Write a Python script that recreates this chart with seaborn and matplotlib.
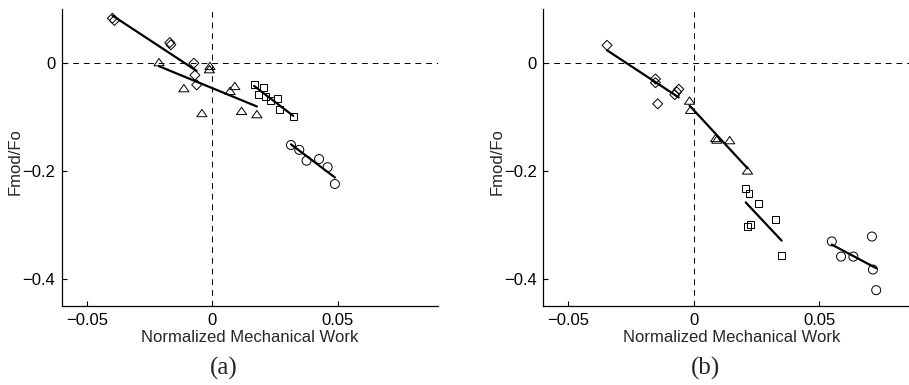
import matplotlib
matplotlib.use("Agg")
import matplotlib.pyplot as plt
from matplotlib.path import Path
import numpy as np
import seaborn as sns

sns.set_style("ticks")
plt.rcParams["font.family"] = ["Liberation Sans", "DejaVu Sans"]
plt.rcParams["axes.unicode_minus"] = True

# ---- panel (a) ----
diamond_x_a = [-0.0398, -0.0390, -0.0169, -0.0165, -0.0073, -0.0069, -0.0062]
diamond_y_a = [0.082, 0.078, 0.037, 0.033, -0.001, -0.023, -0.041]
triangle_x_a = [-0.0212, -0.0009, -0.0011, -0.0113, -0.0041, 0.0090, 0.0071, 0.0117, 0.0178]
triangle_y_a = [0.001, -0.006, -0.012, -0.047, -0.093, -0.043, -0.052, -0.089, -0.095]
square_x_a = [0.0167, 0.0206, 0.0185, 0.0211, 0.0234, 0.0261, 0.0269, 0.0323]
square_y_a = [-0.041, -0.046, -0.058, -0.062, -0.069, -0.066, -0.087, -0.099]
circle_x_a = [0.0314, 0.0347, 0.0376, 0.0426, 0.0460, 0.0489]
circle_y_a = [-0.152, -0.161, -0.181, -0.178, -0.193, -0.224]

# ---- panel (b) ----
diamond_x_b = [-0.0346, -0.0153, -0.0153, -0.0144, -0.0076, -0.0068, -0.0060]
diamond_y_b = [0.032, -0.030, -0.037, -0.076, -0.059, -0.054, -0.049]
triangle_x_b = [-0.0017, -0.0013, 0.0087, 0.0092, 0.0143, 0.0214]
triangle_y_b = [-0.070, -0.087, -0.139, -0.142, -0.143, -0.199]
square_x_b = [0.0207, 0.0220, 0.0259, 0.0326, 0.0226, 0.0215, 0.0350]
square_y_b = [-0.233, -0.242, -0.260, -0.289, -0.298, -0.303, -0.356]
circle_x_b = [0.0550, 0.0587, 0.0636, 0.0710, 0.0714, 0.0727]
circle_y_b = [-0.330, -0.358, -0.358, -0.321, -0.382, -0.420]

x_ticks = [-0.05, 0.0, 0.05]
x_tick_labels = ["\u22120.05", "0", "0.05"]
y_ticks = [-0.4, -0.2, 0.0]
y_tick_labels = ["\u22120.4", "\u22120.2", "0"]
x_label = "Normalized Mechanical Work"
y_label = "Fmod/Fo"
captions = ["(a)", "(b)"]

# closed open-triangle outline, wider than it is tall
tri = Path([(-1.0, -0.72), (1.0, -0.72), (0.0, 0.72), (-1.0, -0.72)], closed=True)
marker_styles = {
    "diamond": ("D", 26),
    "triangle": (tri, 54),
    "square": ("s", 25),
    "circle": ("o", 42),
}

panels = [
    [("diamond", diamond_x_a, diamond_y_a), ("triangle", triangle_x_a, triangle_y_a),
     ("square", square_x_a, square_y_a), ("circle", circle_x_a, circle_y_a)],
    [("diamond", diamond_x_b, diamond_y_b), ("triangle", triangle_x_b, triangle_y_b),
     ("square", square_x_b, square_y_b), ("circle", circle_x_b, circle_y_b)],
]

W, H = 909, 385
fig = plt.figure(figsize=(W / 100, H / 100), dpi=100)

ax_left_px = [61.7, 543.3]
ax_w_px = 376.3
ax_top_px, ax_bottom_px = 8.5, 306.4
caption_x_px = [224, 706]

for i, groups in enumerate(panels):
    ax = fig.add_axes([ax_left_px[i] / W, (H - ax_bottom_px) / H,
                       ax_w_px / W, (ax_bottom_px - ax_top_px) / H])
    dash = (0, (6, 5))
    ax.axhline(0, color="k", lw=0.7, ls=dash, zorder=1)
    ax.axvline(0, color="k", lw=0.7, ls=dash, zorder=1)
    for name, xs, ys in groups:
        m, s = marker_styles[name]
        sns.regplot(x=np.array(xs), y=np.array(ys), ax=ax, ci=None, color="k",
                    marker=m, truncate=True,
                    scatter_kws=dict(s=s, facecolors="none", edgecolors="k",
                                     linewidths=0.7, alpha=1, zorder=3),
                    line_kws=dict(color="k", lw=1.6, zorder=4))
    ax.set_xlim(-0.06, 0.09)
    ax.set_ylim(-0.45, 0.1)
    ax.set_xticks(x_ticks)
    ax.set_xticklabels(x_tick_labels)
    ax.set_yticks(y_ticks)
    ax.set_yticklabels(y_tick_labels)
    ax.tick_params(direction="in", length=3.5, width=0.8, pad=4.5,
                   labelsize=12, colors="k")
    sns.despine(ax=ax)
    for sp in ("left", "bottom"):
        ax.spines[sp].set_linewidth(0.9)
        ax.spines[sp].set_color("k")
    ax.set_xlabel(x_label, fontsize=12, labelpad=2)
    ax.set_ylabel(y_label, fontsize=12)
    ax.yaxis.set_label_coords(-0.103, 0.485)
    fig.text(caption_x_px[i] / W, 1 - 368 / H, captions[i], ha="center", va="center",
             fontsize=18, family=["Liberation Serif", "DejaVu Serif"])

fig.savefig("out.png", dpi=100)
